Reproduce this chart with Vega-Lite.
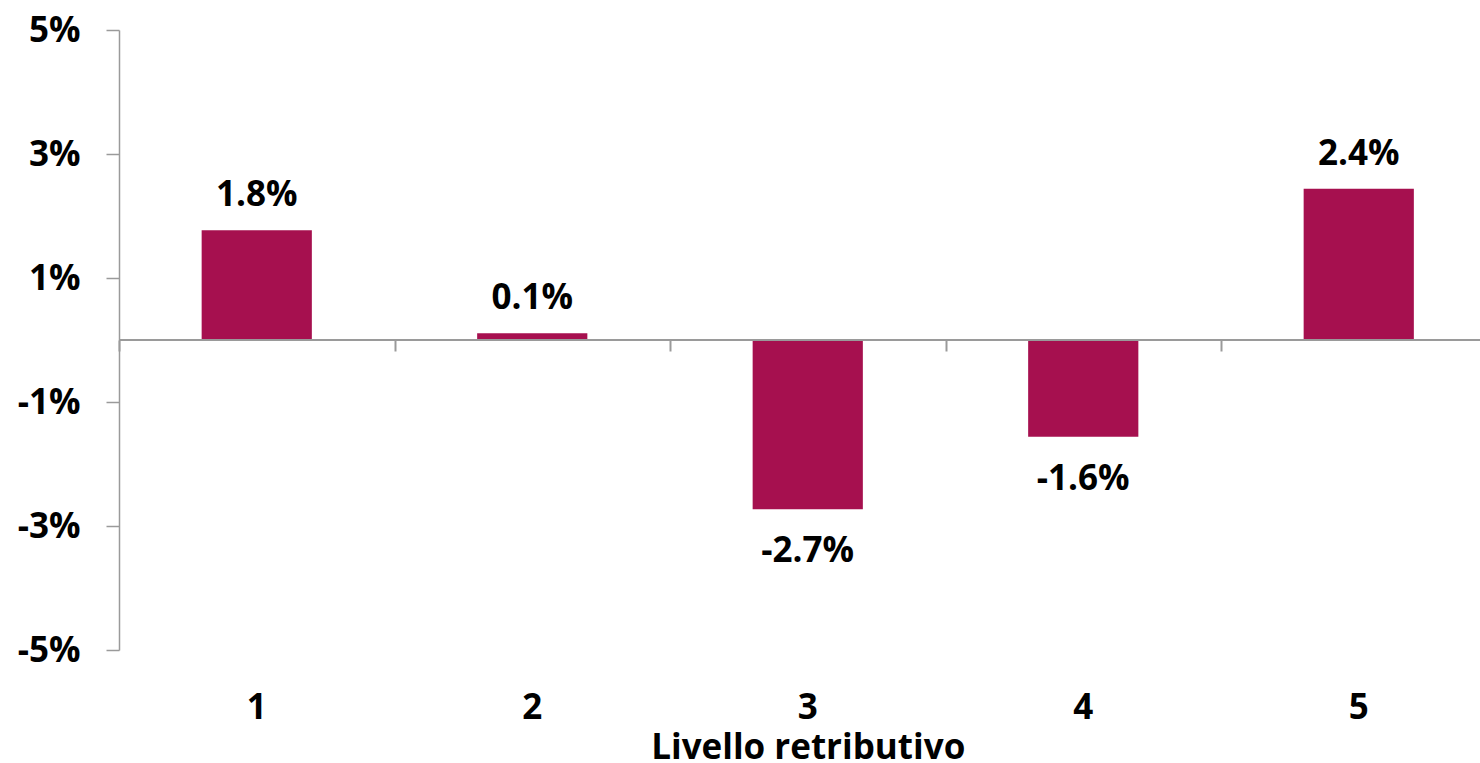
{
  "$schema": "https://vega.github.io/schema/vega-lite/v6.json",
  "width": 1361,
  "height": 620,
  "autosize": {"type": "none"},
  "padding": {"left": 119, "top": 30, "right": 0, "bottom": 113},
  "background": "white",
  "config": {
    "view": {"stroke": null},
    "font": "Open Sans",
    "axis": {"grid": false, "labelFont": "Open Sans", "labelFontWeight": "bold", "labelFontSize": 35, "labelColor": "black", "titleFont": "Open Sans", "titleFontWeight": "bold", "titleFontSize": 35, "titleColor": "black"}
  },
  "data": {
    "values": [
      {"livello": "1", "v": 1.77},
      {"livello": "2", "v": 0.11},
      {"livello": "3", "v": -2.73},
      {"livello": "4", "v": -1.56},
      {"livello": "5", "v": 2.44}
    ]
  },
  "transform": [{"calculate": "(datum.v < 0 ? '-' : '') + format(abs(datum.v), '.1f') + '%'", "as": "lbl"}],
  "layer": [
    {
      "mark": {"type": "bar", "color": "#A6104F", "width": {"band": 0.4}},
      "encoding": {
        "x": {
          "field": "livello", "type": "ordinal",
          "scale": {"range": [0, 1377.5], "paddingInner": 0, "paddingOuter": 0},
          "axis": {"orient": "bottom", "domain": false, "ticks": false, "tickSize": 0, "labelAngle": 0, "labelPadding": 40, "title": "Livello retributivo", "titlePadding": 5}
        },
        "y": {
          "field": "v", "type": "quantitative",
          "scale": {"domain": [-5, 5], "nice": false, "zero": false},
          "axis": {"values": [-5, -3, -1, 1, 3, 5], "labelExpr": "datum.value + '%'", "domainColor": "#9a9a9a", "domainWidth": 1.5, "tickColor": "#9a9a9a", "tickWidth": 1.5, "tickSize": 13, "labelPadding": 26, "title": null}
        }
      }
    },
    {
      "mark": {"type": "rule", "color": "#9a9a9a", "strokeWidth": 2},
      "encoding": {"y": {"datum": 0, "type": "quantitative"}}
    },
    {
      "mark": {"type": "text", "opacity": 0},
      "encoding": {
        "x": {
          "field": "livello", "type": "ordinal",
          "axis": {"orient": "bottom", "offset": -310, "labels": false, "domain": false, "ticks": true, "tickBand": "extent", "tickSize": 11, "tickColor": "#9a9a9a", "tickWidth": 2, "title": null}
        },
        "text": {"value": ""}
      }
    },
    {
      "transform": [{"filter": "datum.v >= 0"}],
      "mark": {"type": "text", "font": "Open Sans", "fontWeight": "bold", "fontSize": 35, "baseline": "alphabetic", "dy": -24, "color": "black"},
      "encoding": {
        "x": {"field": "livello", "type": "ordinal", "axis": null},
        "y": {"field": "v", "type": "quantitative"},
        "text": {"field": "lbl"}
      }
    },
    {
      "transform": [{"filter": "datum.v < 0"}],
      "mark": {"type": "text", "font": "Open Sans", "fontWeight": "bold", "fontSize": 35, "baseline": "alphabetic", "dy": 53, "color": "black"},
      "encoding": {
        "x": {"field": "livello", "type": "ordinal", "axis": null},
        "y": {"field": "v", "type": "quantitative"},
        "text": {"field": "lbl"}
      }
    }
  ],
  "resolve": {"axis": {"x": "independent"}}
}
